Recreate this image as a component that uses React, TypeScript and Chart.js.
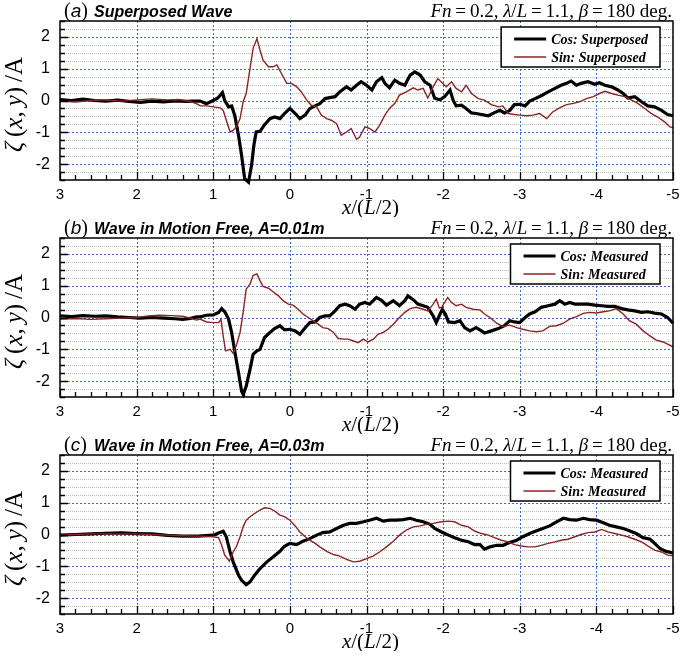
import React, { useEffect, useRef } from 'react';
import { Chart, registerables } from 'chart.js';
Chart.register(...registerables);

// ---------- axis settings ----------
const X_MIN = -5;
const X_MAX = 3;
const Y_MIN = -2.5;
const Y_MAX = 2.5;
const xTickLabels = [3, 2, 1, 0, -1, -2, -3, -4, -5];
const yTickLabels = [-2, -1, 0, 1, 2];

// ---------- panel (a) Superposed ----------
const aCosX = [3.0, 2.85, 2.7, 2.55, 2.4, 2.25, 2.1, 1.95, 1.8, 1.65, 1.5, 1.35, 1.25, 1.17, 1.09, 1.0, 0.94, 0.88, 0.85, 0.80, 0.76, 0.72, 0.67, 0.63, 0.59, 0.54, 0.50, 0.47, 0.44, 0.39, 0.33, 0.26, 0.20, 0.13, 0.07, 0.0, -0.07, -0.13, -0.2, -0.26, -0.33, -0.39, -0.46, -0.52, -0.59, -0.65, -0.74, -0.8, -0.87, -0.93, -1.0, -1.07, -1.13, -1.2, -1.24, -1.3, -1.37, -1.43, -1.5, -1.57, -1.63, -1.7, -1.76, -1.83, -1.89, -1.96, -2.02, -2.09, -2.13, -2.17, -2.24, -2.3, -2.37, -2.43, -2.5, -2.59, -2.67, -2.74, -2.8, -2.87, -2.93, -3.0, -3.07, -3.13, -3.2, -3.28, -3.37, -3.46, -3.54, -3.61, -3.67, -3.74, -3.8, -3.89, -3.98, -4.04, -4.11, -4.2, -4.28, -4.35, -4.41, -4.5, -4.59, -4.67, -4.76, -4.85, -4.93, -5.0];
const aCosY = [0.03, 0.0, 0.04, 0.0, -0.02, 0.01, -0.03, -0.06, -0.02, -0.04, -0.01, -0.03, -0.02, -0.02, -0.1, 0.0, 0.08, 0.25, 0.0, -0.2, -0.17, -0.46, -1.1, -1.73, -2.46, -2.57, -2.04, -1.41, -0.99, -0.97, -0.76, -0.57, -0.52, -0.57, -0.41, -0.25, -0.41, -0.57, -0.46, -0.25, -0.17, -0.1, 0.06, 0.09, 0.12, 0.27, 0.43, 0.33, 0.48, 0.59, 0.48, 0.33, 0.59, 0.72, 0.54, 0.4, 0.64, 0.54, 0.48, 0.8, 0.9, 0.8, 0.59, 0.48, 0.07, 0.02, 0.12, 0.33, 0.01, -0.17, -0.15, -0.25, -0.39, -0.41, -0.44, -0.48, -0.38, -0.31, -0.39, -0.31, -0.13, -0.12, -0.17, -0.02, 0.06, 0.15, 0.27, 0.38, 0.48, 0.54, 0.61, 0.48, 0.54, 0.59, 0.51, 0.56, 0.48, 0.43, 0.33, 0.22, 0.08, 0.12, -0.04, -0.17, -0.2, -0.31, -0.44, -0.48];
const aSinX = [3.0, 2.8, 2.6, 2.4, 2.2, 2.0, 1.8, 1.6, 1.45, 1.3, 1.2, 1.17, 1.09, 1.0, 0.91, 0.87, 0.83, 0.78, 0.74, 0.70, 0.65, 0.61, 0.57, 0.52, 0.48, 0.43, 0.39, 0.35, 0.28, 0.22, 0.17, 0.11, 0.04, -0.02, -0.09, -0.15, -0.22, -0.28, -0.35, -0.41, -0.48, -0.54, -0.61, -0.67, -0.74, -0.8, -0.87, -0.91, -0.98, -1.04, -1.11, -1.17, -1.24, -1.3, -1.37, -1.43, -1.52, -1.61, -1.67, -1.74, -1.8, -1.87, -1.93, -2.04, -2.11, -2.17, -2.24, -2.3, -2.37, -2.46, -2.54, -2.63, -2.72, -2.78, -2.85, -2.93, -3.0, -3.09, -3.17, -3.26, -3.35, -3.43, -3.52, -3.61, -3.7, -3.78, -3.87, -3.96, -4.04, -4.11, -4.2, -4.28, -4.37, -4.46, -4.54, -4.63, -4.72, -4.8, -4.89, -4.96, -5.0];
const aSinY = [-0.02, -0.05, 0.0, 0.02, -0.02, 0.02, 0.05, 0.02, 0.03, -0.03, -0.12, -0.17, -0.17, -0.2, -0.23, -0.31, -0.62, -0.99, -0.94, -0.83, -0.57, -0.04, 0.22, 1.01, 1.64, 1.94, 1.59, 1.27, 1.06, 1.06, 1.12, 0.85, 0.54, 0.54, 0.43, 0.27, 0.01, -0.15, -0.2, -0.46, -0.57, -0.62, -0.73, -1.09, -0.99, -0.88, -1.22, -1.15, -0.83, -0.88, -0.99, -0.78, -0.46, -0.25, -0.09, 0.17, 0.27, 0.4, 0.33, 0.38, 0.08, 0.43, 0.69, 0.43, 0.59, 0.38, 0.27, 0.48, 0.22, 0.06, 0.01, -0.13, -0.2, -0.17, -0.41, -0.44, -0.46, -0.48, -0.46, -0.41, -0.57, -0.36, -0.23, -0.13, -0.09, -0.04, 0.06, 0.12, 0.22, 0.29, 0.22, 0.17, 0.12, 0.01, -0.09, -0.25, -0.41, -0.52, -0.67, -0.83, -0.85];

// ---------- panel (b) A=0.01m ----------
const bCosX = [3.0, 2.85, 2.7, 2.55, 2.4, 2.25, 2.1, 1.95, 1.8, 1.65, 1.5, 1.4, 1.3, 1.22, 1.17, 1.09, 1.0, 0.93, 0.89, 0.85, 0.8, 0.76, 0.72, 0.67, 0.63, 0.61, 0.57, 0.52, 0.48, 0.43, 0.39, 0.33, 0.26, 0.2, 0.13, 0.07, 0.0, -0.07, -0.13, -0.2, -0.26, -0.33, -0.39, -0.46, -0.52, -0.59, -0.65, -0.72, -0.78, -0.85, -0.91, -0.98, -1.04, -1.13, -1.2, -1.26, -1.35, -1.43, -1.5, -1.54, -1.61, -1.67, -1.74, -1.8, -1.87, -1.91, -1.96, -1.99, -2.03, -2.07, -2.15, -2.22, -2.28, -2.35, -2.43, -2.5, -2.54, -2.63, -2.72, -2.8, -2.87, -2.93, -3.0, -3.07, -3.13, -3.2, -3.28, -3.37, -3.46, -3.52, -3.59, -3.65, -3.72, -3.8, -3.89, -3.98, -4.07, -4.15, -4.24, -4.33, -4.41, -4.5, -4.59, -4.67, -4.76, -4.85, -4.93, -5.0];
const bCosY = [0.05, 0.03, 0.06, 0.04, 0.05, 0.02, 0.0, -0.02, 0.0, -0.02, -0.04, -0.06, -0.03, 0.02, 0.02, 0.07, 0.08, 0.16, 0.28, 0.18, -0.05, -0.47, -1.05, -1.74, -2.32, -2.42, -2.16, -1.63, -1.16, -1.05, -1.0, -0.63, -0.47, -0.35, -0.26, -0.39, -0.37, -0.42, -0.53, -0.32, -0.16, -0.14, 0.0, 0.05, 0.05, 0.21, 0.37, 0.42, 0.37, 0.26, 0.42, 0.47, 0.42, 0.63, 0.53, 0.39, 0.53, 0.37, 0.53, 0.68, 0.56, 0.42, 0.37, 0.32, 0.05, -0.16, 0.11, 0.25, 0.1, -0.14, -0.16, -0.1, -0.32, -0.42, -0.32, -0.42, -0.49, -0.42, -0.35, -0.26, -0.1, -0.14, -0.16, 0.0, 0.11, 0.18, 0.32, 0.37, 0.42, 0.53, 0.42, 0.47, 0.42, 0.42, 0.42, 0.39, 0.37, 0.35, 0.35, 0.28, 0.24, 0.21, 0.16, 0.18, 0.14, 0.11, 0.0, -0.18];
const bSinX = [3.0, 2.8, 2.6, 2.4, 2.2, 2.0, 1.85, 1.7, 1.55, 1.4, 1.3, 1.22, 1.17, 1.09, 1.0, 0.93, 0.9, 0.87, 0.84, 0.78, 0.74, 0.7, 0.65, 0.61, 0.57, 0.52, 0.48, 0.43, 0.39, 0.35, 0.28, 0.22, 0.15, 0.09, 0.02, -0.04, -0.11, -0.17, -0.24, -0.3, -0.37, -0.43, -0.5, -0.57, -0.63, -0.7, -0.76, -0.83, -0.89, -0.96, -1.02, -1.09, -1.15, -1.22, -1.28, -1.35, -1.43, -1.5, -1.57, -1.65, -1.74, -1.8, -1.87, -1.91, -1.95, -1.98, -2.06, -2.11, -2.17, -2.24, -2.3, -2.39, -2.48, -2.54, -2.61, -2.7, -2.78, -2.87, -2.96, -3.04, -3.13, -3.22, -3.3, -3.39, -3.48, -3.57, -3.65, -3.74, -3.83, -3.91, -4.0, -4.09, -4.17, -4.26, -4.35, -4.43, -4.52, -4.61, -4.7, -4.78, -4.87, -4.93, -5.0];
const bSinY = [-0.05, -0.03, -0.06, -0.04, -0.02, 0.0, 0.05, 0.07, 0.06, 0.04, -0.02, -0.08, -0.05, -0.14, -0.16, -0.16, -0.05, -0.58, -1.05, -1.0, -1.13, -0.89, -0.47, 0.16, 0.89, 1.05, 1.32, 1.37, 1.16, 0.98, 0.92, 0.81, 0.68, 0.53, 0.42, 0.39, 0.26, 0.11, 0.0, -0.1, -0.21, -0.32, -0.35, -0.47, -0.66, -0.68, -0.68, -0.74, -0.79, -0.68, -0.77, -0.68, -0.53, -0.47, -0.37, -0.21, 0.0, 0.16, 0.28, 0.32, 0.26, 0.21, 0.42, 0.58, 0.3, 0.32, 0.63, 0.47, 0.37, 0.42, 0.32, 0.26, 0.24, 0.11, 0.0, -0.18, -0.28, -0.24, -0.32, -0.37, -0.42, -0.45, -0.42, -0.28, -0.26, -0.18, -0.05, 0.03, 0.13, 0.16, 0.14, 0.18, 0.21, 0.28, 0.11, -0.1, -0.21, -0.42, -0.58, -0.71, -0.77, -0.84, -0.92];

// ---------- panel (c) A=0.03m ----------
const cCosX = [3.0, 2.8, 2.6, 2.4, 2.2, 2.0, 1.8, 1.6, 1.4, 1.2, 1.0, 0.93, 0.87, 0.83, 0.78, 0.74, 0.67, 0.63, 0.57, 0.52, 0.46, 0.39, 0.3, 0.22, 0.13, 0.07, 0.0, -0.09, -0.17, -0.26, -0.35, -0.43, -0.52, -0.61, -0.7, -0.78, -0.87, -0.96, -1.04, -1.13, -1.22, -1.3, -1.39, -1.48, -1.57, -1.65, -1.74, -1.83, -1.89, -1.98, -2.07, -2.15, -2.24, -2.33, -2.41, -2.48, -2.54, -2.61, -2.7, -2.78, -2.87, -2.96, -3.04, -3.13, -3.22, -3.3, -3.39, -3.48, -3.57, -3.65, -3.74, -3.83, -3.91, -4.0, -4.09, -4.17, -4.26, -4.35, -4.43, -4.52, -4.61, -4.7, -4.76, -4.83, -4.91, -5.0];
const cCosY = [-0.02, 0.0, 0.02, 0.04, 0.05, 0.03, 0.02, -0.03, -0.05, -0.05, -0.02, 0.05, 0.1, -0.07, -0.55, -0.86, -1.28, -1.44, -1.58, -1.49, -1.28, -1.07, -0.86, -0.71, -0.53, -0.37, -0.28, -0.32, -0.21, -0.13, -0.02, 0.06, 0.08, 0.19, 0.29, 0.35, 0.35, 0.4, 0.45, 0.51, 0.42, 0.45, 0.45, 0.47, 0.51, 0.45, 0.4, 0.32, 0.19, 0.08, -0.02, -0.1, -0.18, -0.23, -0.32, -0.32, -0.46, -0.39, -0.34, -0.34, -0.25, -0.18, -0.07, 0.03, 0.12, 0.19, 0.27, 0.4, 0.51, 0.47, 0.45, 0.51, 0.47, 0.45, 0.37, 0.29, 0.24, 0.19, 0.12, 0.03, -0.1, -0.15, -0.28, -0.44, -0.53, -0.58];
const cSinX = [3.0, 2.8, 2.6, 2.4, 2.2, 2.0, 1.8, 1.6, 1.4, 1.2, 1.0, 0.93, 0.89, 0.85, 0.79, 0.74, 0.7, 0.65, 0.61, 0.57, 0.52, 0.46, 0.39, 0.33, 0.26, 0.2, 0.13, 0.07, 0.0, -0.07, -0.13, -0.2, -0.26, -0.33, -0.39, -0.48, -0.57, -0.65, -0.74, -0.83, -0.91, -1.0, -1.09, -1.17, -1.26, -1.35, -1.43, -1.52, -1.61, -1.7, -1.78, -1.87, -1.98, -2.07, -2.15, -2.24, -2.33, -2.41, -2.5, -2.59, -2.67, -2.76, -2.85, -2.93, -3.02, -3.11, -3.2, -3.28, -3.37, -3.46, -3.54, -3.63, -3.72, -3.8, -3.89, -3.98, -4.07, -4.15, -4.24, -4.33, -4.41, -4.5, -4.59, -4.67, -4.76, -4.85, -4.93, -5.0];
const cSinY = [-0.02, 0.0, 0.02, 0.02, 0.02, 0.02, 0.0, -0.02, -0.04, -0.05, -0.07, -0.1, -0.34, -0.65, -0.84, -0.55, -0.39, -0.07, 0.24, 0.45, 0.56, 0.66, 0.77, 0.84, 0.82, 0.74, 0.61, 0.56, 0.45, 0.27, 0.08, -0.07, -0.18, -0.28, -0.39, -0.53, -0.63, -0.68, -0.78, -0.86, -0.84, -0.76, -0.67, -0.55, -0.39, -0.21, -0.02, 0.14, 0.24, 0.27, 0.32, 0.35, 0.4, 0.42, 0.4, 0.29, 0.24, 0.11, 0.03, -0.02, -0.1, -0.18, -0.23, -0.32, -0.36, -0.39, -0.39, -0.34, -0.28, -0.23, -0.18, -0.15, -0.07, 0.0, 0.06, 0.08, 0.16, 0.08, 0.03, -0.02, -0.07, -0.15, -0.23, -0.36, -0.49, -0.55, -0.65, -0.67];

// ---------- text ----------
const panelLetters = ['a', 'b', 'c'];
const panelTitles = ['Superposed Wave', 'Wave in Motion Free, A=0.01m', 'Wave in Motion Free, A=0.03m'];
const cosLabels = ['Cos: Superposed', 'Cos: Measured', 'Cos: Measured'];
const sinLabels = ['Sin: Superposed', 'Sin: Measured', 'Sin: Measured'];

const COS_COLOR = '#000000';
const SIN_COLOR = '#8b2323';
const SERIF = '"Liberation Serif", "DejaVu Serif", serif';
const SANS = '"Liberation Sans", Arial, sans-serif';

const series = [
  { cx: aCosX, cy: aCosY, sx: aSinX, sy: aSinY },
  { cx: bCosX, cy: bCosY, sx: bSinX, sy: bSinY },
  { cx: cCosX, cy: cCosY, sx: cSinX, sy: cSinY },
];

function toPoints(xs: number[], ys: number[]) {
  const n = Math.min(xs.length, ys.length);
  const out: { x: number; y: number }[] = [];
  for (let i = 0; i < n; i++) out.push({ x: xs[i], y: ys[i] });
  return out;
}

type Seg = { t: string; f: string };
function drawSegs(ctx: CanvasRenderingContext2D, segs: Seg[], x: number, y: number, align: 'left' | 'center' | 'right') {
  let total = 0;
  for (const s of segs) {
    ctx.font = s.f;
    total += ctx.measureText(s.t).width;
  }
  let cx = align === 'right' ? x - total : align === 'center' ? x - total / 2 : x;
  ctx.textAlign = 'left';
  for (const s of segs) {
    ctx.font = s.f;
    ctx.fillText(s.t, cx, y);
    cx += ctx.measureText(s.t).width;
  }
  return total;
}

function makeDecor(idx: number) {
  return {
    id: 'decor' + idx,
    beforeDatasetsDraw(chart: any) {
      const ctx: CanvasRenderingContext2D = chart.ctx;
      const { left, right, top, bottom } = chart.chartArea;
      const xs = chart.scales.x;
      const ys = chart.scales.y;
      ctx.save();
      ctx.lineWidth = 1;
      // minor horizontal grid (every 0.25)
      ctx.strokeStyle = '#bdbdbd';
      ctx.setLineDash([1, 1]);
      ctx.beginPath();
      for (let i = -9; i <= 9; i++) {
        if (i % 4 === 0) continue;
        const py = Math.round(ys.getPixelForValue(i * 0.25)) + 0.5;
        ctx.moveTo(left, py);
        ctx.lineTo(right, py);
      }
      ctx.stroke();
      // major grid (integers), blue dotted
      ctx.strokeStyle = '#3a6ccf';
      ctx.setLineDash([2, 2]);
      ctx.beginPath();
      for (let k = 0; k < yTickLabels.length; k++) {
        const py = Math.round(ys.getPixelForValue(yTickLabels[k])) + 0.5;
        ctx.moveTo(left, py);
        ctx.lineTo(right, py);
      }
      for (let k = 1; k < xTickLabels.length - 1; k++) {
        const px = Math.round(xs.getPixelForValue(xTickLabels[k])) + 0.5;
        ctx.moveTo(px, top);
        ctx.lineTo(px, bottom);
      }
      ctx.stroke();
      ctx.restore();
    },
    afterDatasetsDraw(chart: any) {
      const ctx: CanvasRenderingContext2D = chart.ctx;
      const { left, right, top, bottom } = chart.chartArea;
      const xs = chart.scales.x;
      const ys = chart.scales.y;
      ctx.save();
      ctx.setLineDash([]);
      // frame
      ctx.strokeStyle = '#000';
      ctx.lineWidth = 1.5;
      ctx.strokeRect(left, top, right - left, bottom - top);
      // inner ticks
      ctx.lineWidth = 1.3;
      ctx.beginPath();
      for (let i = -25; i <= 15; i++) {
        const px = Math.round(xs.getPixelForValue(i * 0.2)) + 0.5;
        const len = i % 5 === 0 ? 8 : 5;
        ctx.moveTo(px, bottom);
        ctx.lineTo(px, bottom - len);
      }
      for (let i = -10; i <= 10; i++) {
        const py = Math.round(ys.getPixelForValue(i * 0.25)) + 0.5;
        const len = i % 4 === 0 ? 8 : 5;
        ctx.moveTo(left, py);
        ctx.lineTo(left + len, py);
      }
      ctx.stroke();

      ctx.fillStyle = '#000';
      ctx.textBaseline = 'middle';
      // left title
      const ty = top - 9;
      drawSegs(ctx, [
        { t: '(', f: `20px ${SERIF}` },
        { t: panelLetters[idx], f: `italic 19px ${SANS}` },
        { t: ')', f: `20px ${SERIF}` },
      ], left + 4, ty, 'left');
      ctx.font = `bold italic 16px ${SANS}`;
      ctx.textAlign = 'left';
      ctx.fillText(panelTitles[idx], left + 34, ty + 1);

      // right title
      const th = '\u2009';
      const fs = 19;
      drawSegs(ctx, [
        { t: 'Fn', f: `italic ${fs}px ${SERIF}` },
        { t: th + '=' + th + '0.2, ', f: `${fs}px ${SERIF}` },
        { t: 'λ', f: `italic ${fs}px ${SERIF}` },
        { t: '/', f: `${fs}px ${SERIF}` },
        { t: 'L', f: `italic ${fs}px ${SERIF}` },
        { t: th + '=' + th + '1.1, ', f: `${fs}px ${SERIF}` },
        { t: 'β', f: `italic ${fs}px ${SERIF}` },
        { t: th + '=' + th + '180 deg.', f: `${fs}px ${SERIF}` },
      ], right - 1, ty, 'right');

      // x axis title
      drawSegs(ctx, [
        { t: 'x', f: `italic 21px ${SERIF}` },
        { t: '/(', f: `21px ${SERIF}` },
        { t: 'L', f: `italic 21px ${SERIF}` },
        { t: '/2)', f: `21px ${SERIF}` },
      ], (left + right) / 2 + 4, bottom + 28, 'center');

      // y axis title (rotated)
      ctx.save();
      ctx.translate(15, (top + bottom) / 2 + 4);
      ctx.rotate(-Math.PI / 2);
      const yf = 25;
      drawSegs(ctx, [
        { t: 'ζ', f: `italic ${yf}px ${SERIF}` },
        { t: th + '(', f: `${yf}px ${SERIF}` },
        { t: 'x', f: `italic ${yf}px ${SERIF}` },
        { t: ',' + th, f: `${yf}px ${SERIF}` },
        { t: 'y', f: `italic ${yf}px ${SERIF}` },
        { t: ')' + th + '/' + 'A', f: `${yf}px ${SERIF}` },
      ], 0, 0, 'center');
      ctx.restore();

      // legend
      const lf = `bold italic 14px ${SERIF}`;
      ctx.font = lf;
      const tw = Math.max(ctx.measureText(cosLabels[idx]).width, ctx.measureText(sinLabels[idx]).width);
      const boxW = 50 + tw + 12;
      const boxR = right - 13;
      const boxL = boxR - boxW;
      const boxT = top + 6;
      const boxH = 40;
      ctx.fillStyle = '#fff';
      ctx.fillRect(boxL, boxT, boxW, boxH);
      ctx.strokeStyle = '#000';
      ctx.lineWidth = 1.5;
      ctx.strokeRect(boxL, boxT, boxW, boxH);
      const rows = [
        { label: cosLabels[idx], color: COS_COLOR, w: 3 },
        { label: sinLabels[idx], color: SIN_COLOR, w: 1.5 },
      ];
      rows.forEach((r, k) => {
        const ry = boxT + 12 + k * 18;
        ctx.strokeStyle = r.color;
        ctx.lineWidth = r.w;
        ctx.beginPath();
        ctx.moveTo(boxL + 13, ry);
        ctx.lineTo(boxL + 45, ry);
        ctx.stroke();
        ctx.fillStyle = '#000';
        ctx.font = lf;
        ctx.textAlign = 'left';
        ctx.fillText(r.label, boxL + 50, ry + 1);
      });
      ctx.restore();
    },
  };
}

function Panel({ idx, top }: { idx: number; top: number }) {
  const ref = useRef<HTMLCanvasElement>(null);
  useEffect(() => {
    if (!ref.current) return;
    const s = series[idx];
    const chart = new Chart(ref.current, {
      type: 'line',
      data: {
        datasets: [
          {
            label: cosLabels[idx],
            data: toPoints(s.cx, s.cy),
            borderColor: COS_COLOR,
            borderWidth: 3.2,
            pointRadius: 0,
            tension: 0,
            fill: false,
            order: 1,
            clip: false as any,
          },
          {
            label: sinLabels[idx],
            data: toPoints(s.sx, s.sy),
            borderColor: SIN_COLOR,
            borderWidth: 1.4,
            pointRadius: 0,
            tension: 0,
            fill: false,
            order: 0,
            clip: false as any,
          },
        ],
      },
      options: {
        animation: false,
        responsive: false,
        maintainAspectRatio: false,
        devicePixelRatio: 1,
        layout: { padding: { top: 21, right: 7, left: 0, bottom: 0 } },
        plugins: { legend: { display: false }, tooltip: { enabled: false }, title: { display: false } },
        events: [],
        scales: {
          x: {
            type: 'linear',
            min: X_MIN,
            max: X_MAX,
            reverse: true,
            grid: { display: false, drawTicks: false },
            border: { display: false },
            afterBuildTicks: (scale: any) => {
              scale.ticks = xTickLabels.map((v) => ({ value: v }));
            },
            ticks: {
              autoSkip: false,
              maxRotation: 0,
              padding: 6,
              color: '#000',
              font: { family: SANS, size: 15 },
              callback: (v: any) => String(v),
            },
            afterFit: (scale: any) => {
              scale.height = 37;
              scale.paddingLeft = 0;
              scale.paddingRight = 0;
            },
          },
          y: {
            type: 'linear',
            min: Y_MIN,
            max: Y_MAX,
            grid: { display: false, drawTicks: false },
            border: { display: false },
            afterBuildTicks: (scale: any) => {
              scale.ticks = yTickLabels.map((v) => ({ value: v }));
            },
            ticks: {
              autoSkip: false,
              padding: 10,
              color: '#000',
              font: { family: SANS, size: 16 },
              callback: (v: any) => String(v),
            },
            afterFit: (scale: any) => {
              scale.width = 60;
              scale.paddingTop = 0;
              scale.paddingBottom = 0;
            },
          },
        },
      },
      plugins: [makeDecor(idx)],
    } as any);
    return () => chart.destroy();
  }, [idx]);
  return (
    <canvas
      ref={ref}
      width={680}
      height={217}
      style={{ position: 'absolute', left: 0, top, width: 680, height: 217 }}
    />
  );
}

export default function App() {
  return (
    <div style={{ position: 'absolute', left: 0, top: 0, width: 680, height: 665, background: '#fff', overflow: 'hidden' }}>
      {[0, 1, 2].map((i) => (
        <Panel key={i} idx={i} top={i * 217} />
      ))}
    </div>
  );
}
